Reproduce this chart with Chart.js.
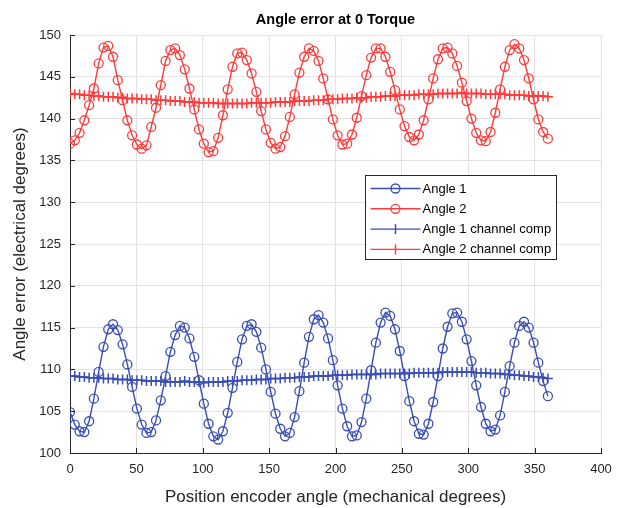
<!DOCTYPE html>
<html>
<head>
<meta charset="utf-8">
<script src="https://cdn.jsdelivr.net/npm/chart.js@4/dist/chart.umd.min.js"></script>
<style>
html, body { margin: 0; padding: 0; background: #fff; }
#wrap { width: 629px; height: 508px; }
</style>
</head>
<body>
<div id="wrap"><canvas id="myChart" width="629" height="508"></canvas></div>
<script>
// position encoder angle (mechanical degrees)
const angles = [0, 3.6, 7.2, 10.8, 14.4, 18, 21.6, 25.2, 28.8, 32.4,
  36, 39.6, 43.2, 46.8, 50.4, 54, 57.6, 61.2, 64.8, 68.4,
  72, 75.6, 79.2, 82.8, 86.4, 90, 93.6, 97.2, 100.8, 104.4,
  108, 111.6, 115.2, 118.8, 122.4, 126, 129.6, 133.2, 136.8, 140.4,
  144, 147.6, 151.2, 154.8, 158.4, 162, 165.6, 169.2, 172.8, 176.4,
  180, 183.6, 187.2, 190.8, 194.4, 198, 201.6, 205.2, 208.8, 212.4,
  216, 219.6, 223.2, 226.8, 230.4, 234, 237.6, 241.2, 244.8, 248.4,
  252, 255.6, 259.2, 262.8, 266.4, 270, 273.6, 277.2, 280.8, 284.4,
  288, 291.6, 295.2, 298.8, 302.4, 306, 309.6, 313.2, 316.8, 320.4,
  324, 327.6, 331.2, 334.8, 338.4, 342, 345.6, 349.2, 352.8, 356.4,
  360];

const angle1 = [104.9, 103.4, 102.6, 102.5, 103.8, 106.5, 109.7, 112.7, 114.8, 115.4,
  114.7, 113.0, 110.6, 107.9, 105.3, 103.4, 102.4, 102.5, 103.9, 106.3,
  109.2, 112.1, 114.1, 115.2, 115.0, 113.7, 111.5, 108.7, 105.9, 103.5,
  102.0, 101.6, 102.6, 104.8, 107.8, 110.9, 113.6, 115.2, 115.4, 114.5,
  112.6, 110.0, 107.3, 104.7, 102.9, 102.0, 102.4, 104.3, 107.4, 110.8,
  113.9, 116.0, 116.5, 115.6, 113.7, 111.1, 108.1, 105.3, 103.2, 102.0,
  102.1, 103.7, 106.5, 109.9, 113.2, 115.6, 116.8, 116.4, 114.8, 112.2,
  109.2, 106.2, 103.8, 102.3, 102.2, 103.5, 106.1, 109.2, 112.5, 115.1,
  116.7, 116.8, 115.7, 113.6, 111.0, 108.1, 105.5, 103.5, 102.6, 102.8,
  104.5, 107.3, 110.4, 113.2, 115.2, 115.7, 115.0, 113.2, 110.8, 108.6,
  106.8];

const angle2 = [137.0, 137.4, 138.3, 139.8, 141.6, 143.6, 146.6, 148.5, 148.7, 147.4,
  144.6, 142.2, 139.8, 138.0, 136.9, 136.4, 136.8, 139.0, 141.3, 144.0,
  146.9, 148.2, 148.4, 147.6, 145.9, 143.6, 141.1, 138.7, 137.0, 136.0,
  136.1, 137.7, 140.4, 143.5, 146.2, 147.8, 147.9, 147.0, 145.4, 143.2,
  140.9, 138.7, 137.1, 136.4, 136.6, 137.9, 140.2, 142.9, 145.5, 147.4,
  148.4, 148.1, 146.9, 144.8, 142.3, 139.9, 138.0, 136.9, 137.0, 138.1,
  140.1, 142.7, 145.2, 147.3, 148.4, 148.4, 147.4, 145.6, 143.4, 141.1,
  139.1, 137.8, 137.4, 138.1, 139.8, 142.3, 144.8, 147.1, 148.4, 148.5,
  147.8, 146.3, 144.3, 142.1, 140.0, 138.3, 137.4, 137.3, 138.4, 140.7,
  143.5, 146.2, 148.2, 148.9, 148.4, 147.0, 144.8, 142.3, 139.9, 138.4,
  137.6];

const angle1Comp = [109.2, 109.2, 109.1, 109.1, 109.0, 109.0, 109.0, 108.9, 108.9, 108.9, 108.8,
  108.8, 108.8, 108.7, 108.7, 108.7, 108.6, 108.6, 108.6, 108.6, 108.5, 108.5,
  108.5, 108.5, 108.6, 108.5, 108.5, 108.5, 108.4, 108.5, 108.5, 108.5, 108.5,
  108.6, 108.6, 108.6, 108.7, 108.7, 108.7, 108.8, 108.8, 108.8, 108.9, 108.9,
  108.9, 109.0, 109.0, 109.0, 109.1, 109.1, 109.1, 109.2, 109.2, 109.2, 109.2,
  109.3, 109.3, 109.3, 109.3, 109.4, 109.4, 109.4, 109.4, 109.4, 109.4, 109.5,
  109.5, 109.5, 109.5, 109.5, 109.5, 109.5, 109.6, 109.6, 109.6, 109.6, 109.6,
  109.6, 109.7, 109.7, 109.7, 109.7, 109.7, 109.7, 109.7, 109.6, 109.6, 109.6,
  109.5, 109.5, 109.5, 109.4, 109.4, 109.3, 109.3, 109.2, 109.2, 109.1, 109.1,
  109.0, 108.9];

const angle2Comp = [143.0, 142.9, 142.9, 142.8, 142.8, 142.7, 142.7, 142.6, 142.6, 142.6, 142.5,
  142.5, 142.4, 142.4, 142.4, 142.3, 142.3, 142.3, 142.2, 142.2, 142.2, 142.1,
  142.1, 142.1, 142.0, 142.0, 142.0, 141.9, 141.9, 141.9, 141.9, 141.8, 141.8,
  141.8, 141.8, 141.8, 141.8, 141.8, 141.9, 141.9, 141.9, 141.9, 141.9, 142.0,
  142.0, 142.0, 142.0, 142.1, 142.1, 142.1, 142.1, 142.2, 142.2, 142.2, 142.3,
  142.3, 142.3, 142.4, 142.4, 142.4, 142.5, 142.5, 142.5, 142.6, 142.6, 142.6,
  142.7, 142.7, 142.7, 142.8, 142.8, 142.8, 142.8, 142.9, 142.9, 142.9, 142.9,
  143.0, 143.0, 143.0, 143.0, 143.0, 143.1, 143.0, 143.0, 143.0, 143.0, 142.9,
  142.9, 142.9, 142.9, 142.9, 142.8, 142.8, 142.8, 142.8, 142.7, 142.7, 142.7,
  142.7, 142.6];

const seriesNames = ["Angle 1", "Angle 2", "Angle 1 channel comp", "Angle 2 channel comp"];
const xTicks = [0, 50, 100, 150, 200, 250, 300, 350, 400];
const yTicks = [100, 105, 110, 115, 120, 125, 130, 135, 140, 145, 150];

const blue = "#3a4db5", red = "#ff3a3a";
const textCol = "#262626";
const fontFam = "'Liberation Sans', Arial, Helvetica, sans-serif";

function toPoints(vals) {
  return vals.map((v, i) => ({ x: angles[i], y: v }));
}

function makeSet(label, vals, color, style, radius, pw) {
  return {
    label: label,
    data: toPoints(vals),
    borderColor: color,
    backgroundColor: "rgba(0,0,0,0)",
    borderWidth: 1.4,
    pointStyle: style,
    pointRadius: radius,
    pointBorderColor: color,
    pointBackgroundColor: "rgba(0,0,0,0)",
    pointBorderWidth: pw,
    tension: 0
  };
}

// matlab style ticks pointing into the plot
const inwardTicks = {
  id: "inwardTicks",
  afterDatasetsDraw(chart) {
    const ctx = chart.ctx, a = chart.chartArea;
    const xs = chart.scales.x, ys = chart.scales.y;
    ctx.save();
    ctx.strokeStyle = textCol;
    ctx.lineWidth = 1;
    ctx.beginPath();
    xTicks.forEach(t => {
      const px = Math.round(xs.getPixelForValue(t)) + 0.5;
      ctx.moveTo(px, a.bottom);
      ctx.lineTo(px, a.bottom - 5);
    });
    yTicks.forEach(t => {
      const py = Math.round(ys.getPixelForValue(t)) + 0.5;
      ctx.moveTo(a.left, py);
      ctx.lineTo(a.left + 5, py);
    });
    ctx.stroke();
    ctx.restore();
  }
};

// legend box inside the axes
const boxLegend = {
  id: "boxLegend",
  afterDraw(chart) {
    const ctx = chart.ctx, a = chart.chartArea;
    const x = Math.round(a.left + 295) + 0.5, y = Math.round(a.top + 140) + 0.5;
    const w = 191, h = 84;
    ctx.save();
    ctx.fillStyle = "#fff";
    ctx.fillRect(x, y, w, h);
    ctx.strokeStyle = textCol;
    ctx.lineWidth = 1;
    ctx.strokeRect(x, y, w, h);
    ctx.font = "13px " + fontFam;
    ctx.textBaseline = "middle";
    chart.data.datasets.forEach((ds, i) => {
      const cy = y + 13 + i * 20.3;
      ctx.strokeStyle = ds.borderColor;
      ctx.lineWidth = ds.borderWidth;
      ctx.beginPath();
      ctx.moveTo(x + 5, cy);
      ctx.lineTo(x + 55, cy);
      ctx.stroke();
      ctx.lineWidth = ds.pointBorderWidth;
      ctx.beginPath();
      if (ds.pointStyle === "circle") {
        ctx.arc(x + 30, cy, ds.pointRadius, 0, Math.PI * 2);
      } else {
        ctx.moveTo(x + 30, cy - ds.pointRadius);
        ctx.lineTo(x + 30, cy + ds.pointRadius);
      }
      ctx.stroke();
      ctx.fillStyle = "#000";
      ctx.fillText(ds.label, x + 57, cy + 0.5);
    });
    ctx.restore();
  }
};

const ctx = document.getElementById("myChart").getContext("2d");

const myChart = new Chart(ctx, {
  type: "line",
  data: {
    datasets: [
      makeSet(seriesNames[0], angle1, blue, "circle", 4.5, 1.3),
      makeSet(seriesNames[1], angle2, red, "circle", 4.5, 1.3),
      makeSet(seriesNames[2], angle1Comp, blue, "cross", 5, 1.5),
      makeSet(seriesNames[3], angle2Comp, red, "cross", 5, 1.5)
    ]
  },
  options: {
    responsive: false,
    animation: false,
    layout: { padding: { left: 0, right: 28, top: 0, bottom: 0 } },
    plugins: {
      legend: { display: false },
      tooltip: { enabled: false },
      title: {
        display: true,
        fullSize: false,
        text: "Angle error at 0 Torque",
        color: "#000",
        font: { family: fontFam, size: 14.5, weight: "bold" },
        padding: { top: 11, bottom: 6.6 }
      }
    },
    scales: {
      x: {
        type: "linear",
        min: 0,
        max: 400,
        afterBuildTicks: s => { s.ticks = xTicks.map(v => ({ value: v })); },
        afterFit: s => { s.height = 55; },
        ticks: { color: textCol, font: { family: fontFam, size: 13 }, padding: 9, maxRotation: 0 },
        grid: { color: "#e2e2e2", drawTicks: false },
        border: { color: textCol, width: 1 },
        title: {
          display: true,
          text: "Position encoder angle (mechanical degrees)",
          color: textCol,
          font: { family: fontFam, size: 17 },
          padding: { top: 5, bottom: 0 }
        }
      },
      y: {
        min: 100,
        max: 150,
        afterBuildTicks: s => { s.ticks = yTicks.map(v => ({ value: v })); },
        afterFit: s => { s.width = 70; },
        ticks: { color: textCol, font: { family: fontFam, size: 13 }, padding: 9 },
        grid: { color: "#e2e2e2", drawTicks: false },
        border: { color: textCol, width: 1 },
        title: {
          display: true,
          text: "Angle error (electrical degrees)",
          color: textCol,
          font: { family: fontFam, size: 17 },
          padding: { top: 10, bottom: 0 }
        }
      }
    }
  },
  plugins: [inwardTicks, boxLegend]
});
</script>
</body>
</html>
